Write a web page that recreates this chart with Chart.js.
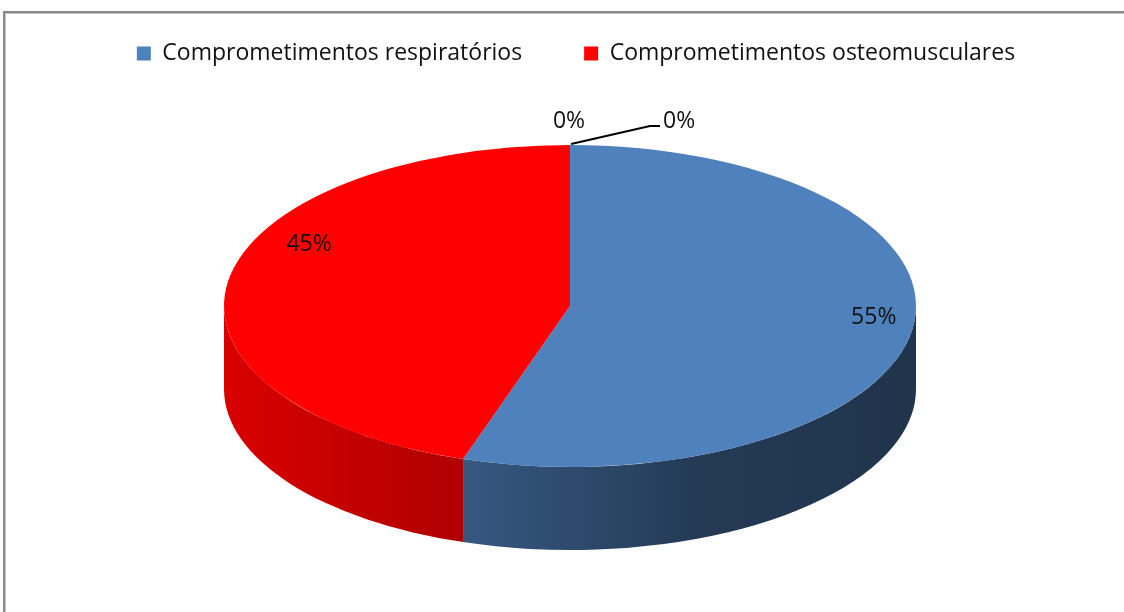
<!DOCTYPE html>
<html>
<head>
<meta charset="utf-8">
<script src="https://cdn.jsdelivr.net/npm/chart.js@4.4.0/dist/chart.umd.min.js"></script>
<style>
  html, body { margin: 0; padding: 0; background: #fff; }
  .frame {
    position: absolute; left: 3px; top: 11px; width: 1121px; height: 601px;
    border-left: 2px solid #8a8a8a; border-top: 2px solid #8a8a8a;
    box-shadow: inset 1px 1px 0 #c4c4c4; box-sizing: border-box;
  }
  .box { position: absolute; left: 0; top: 0; width: 1124px; height: 612px; }
</style>
</head>
<body>
<div class="frame"></div>
<div class="box"><canvas id="myChart" width="1124" height="612"></canvas></div>
<script>
// data
const categories = ["Comprometimentos respiratórios", "Comprometimentos osteomusculares", "", ""];
const values = [55, 45, 0, 0];
const sliceColors = ["#4F81BD", "#FF0000", "#9BBB59", "#8064A2"];

// 3d look
const CX = 570, CY = 306, R = 346, TILT = 161 / 346, DEPTH = 83;
const wallStops = [[0, 0.85], [0.32, 0.7], [0.69, 0.45], [1, 0.4]];
// where excel put the labels (degrees shift from mid angle, fraction of radius)
const labelSpots = [{ shift: -5, frac: 0.88 }, { shift: 18.5, frac: 0.85 }];
const FONT = "'Open Sans', sans-serif";

function shade(hex, f) {
	const n = parseInt(hex.slice(1), 16);
	const r = Math.round(((n >> 16) & 255) * f);
	const g = Math.round(((n >> 8) & 255) * f);
	const b = Math.round((n & 255) * f);
	return `rgb(${r},${g},${b})`;
}

function rim(angle, dy = 0) {
	return { x: CX + R * Math.cos(angle), y: CY + dy + R * TILT * Math.sin(angle) };
}

const pie3d = {
	id: "pie3d",
	beforeDatasetDraw(chart, args) {
		const ctx = chart.ctx;
		const meta = args.meta;
		// side walls, only the front half is visible
		meta.data.forEach((arc, i) => {
			const s = arc.startAngle, e = arc.endAngle;
			if (e - s <= 0) return;
			for (let k = -1; k <= 1; k++) {
				const a = Math.max(s, 2 * Math.PI * k);
				const b = Math.min(e, 2 * Math.PI * k + Math.PI);
				if (b <= a) continue;
				const g = ctx.createLinearGradient(CX - R, 0, CX + R, 0);
				wallStops.forEach(([t, f]) => g.addColorStop(t, shade(sliceColors[i], f)));
				ctx.beginPath();
				ctx.ellipse(CX, CY, R, R * TILT, 0, a, b, false);
				ctx.ellipse(CX, CY + DEPTH, R, R * TILT, 0, b, a, true);
				ctx.closePath();
				ctx.fillStyle = g;
				ctx.fill();
			}
		});
		// squash the top face
		const c = meta.data[0];
		ctx.save();
		ctx.translate(CX, CY);
		ctx.scale(1, TILT);
		ctx.translate(-c.x, -c.y);
	},
	afterDatasetDraw(chart) {
		chart.ctx.restore();
	},
	afterDatasetsDraw(chart) {
		const ctx = chart.ctx;
		const meta = chart.getDatasetMeta(0);
		const total = values.reduce((a, b) => a + b, 0);
		ctx.save();
		ctx.font = `23px ${FONT}`;
		ctx.fillStyle = "#111";
		ctx.textBaseline = "middle";
		let zeros = 0;
		meta.data.forEach((arc, i) => {
			const txt = Math.round((values[i] / total) * 100) + "%";
			if (values[i] > 0) {
				const spot = labelSpots[i];
				const ang = (arc.startAngle + arc.endAngle) / 2 + (spot.shift * Math.PI) / 180;
				ctx.textAlign = "center";
				ctx.fillText(txt, CX + spot.frac * R * Math.cos(ang), CY + 2 + spot.frac * R * TILT * Math.sin(ang));
			} else {
				const p = rim(arc.startAngle);
				if (zeros === 0) {
					ctx.textAlign = "center";
					ctx.fillText(txt, p.x - 1, p.y - 24);
				} else {
					ctx.strokeStyle = "#000";
					ctx.lineWidth = 2;
					ctx.beginPath();
					ctx.moveTo(p.x + 1, p.y - 1);
					ctx.lineTo(p.x + 80, p.y - 19);
					ctx.lineTo(p.x + 90, p.y - 19);
					ctx.stroke();
					ctx.textAlign = "left";
					ctx.fillText(txt, p.x + 93, p.y - 24);
				}
				zeros++;
			}
		});
		ctx.restore();
	}
};

const ctx = document.getElementById("myChart").getContext("2d");
const myChart = new Chart(ctx, {
	type: "pie",
	data: {
		labels: categories,
		datasets: [
			{
				data: values,
				backgroundColor: sliceColors,
				borderWidth: 0
			}
		]
	},
	plugins: [pie3d],
	options: {
		responsive: false,
		animation: false,
		radius: R,
		layout: {
			padding: { top: -20, left: 28, right: 0, bottom: 0 }
		},
		plugins: {
			tooltip: { enabled: false },
			legend: {
				position: "top",
				labels: {
					boxWidth: 14,
					boxHeight: 14,
					padding: 62,
					color: "#111",
					font: { family: FONT, size: 23 },
					filter: (item) => item.text !== ""
				}
			}
		}
	}
});
</script>
</body>
</html>
